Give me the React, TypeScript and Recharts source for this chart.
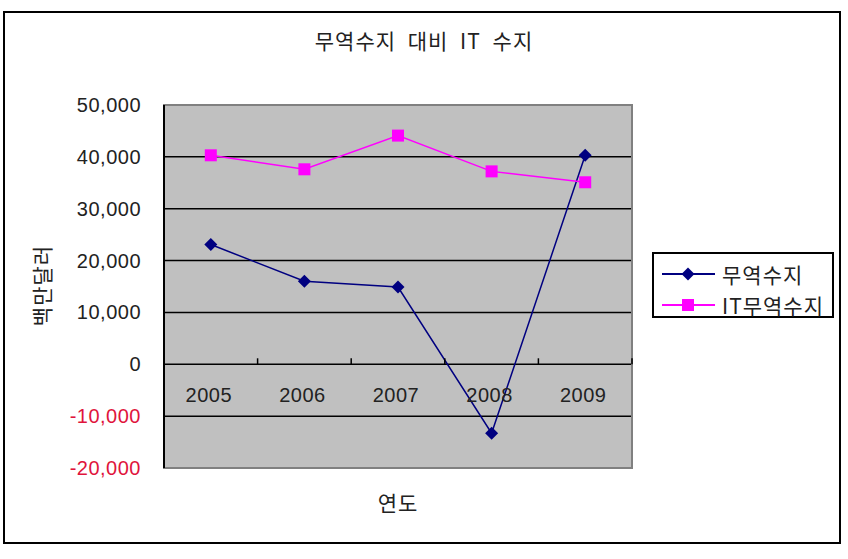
import React from 'react';
import { LineChart, Line, XAxis, YAxis, CartesianGrid, ReferenceArea, Legend } from 'recharts';

const years = ['2005', '2006', '2007', '2008', '2009'];
const tradeBalance = [23100, 16000, 14900, -13300, 40300];
const itTradeBalance = [40300, 37600, 44100, 37200, 35100];
const yTicks = [-20000, -10000, 0, 10000, 20000, 30000, 40000, 50000];
const Y_MIN = -20000;
const Y_MAX = 50000;
const seriesOrder = ['trade', 'it'];

const data = years.map((year, i) => ({
  year,
  trade: tradeBalance[i],
  it: itTradeBalance[i],
}));

// plot box geometry (px)
const PLOT_TOP = 105;
const PLOT_LEFT = 164;
const PLOT_W = 468;
const PLOT_H = 363;
const LEGEND_W = 182;
const NUM_FONT = '"Liberation Sans", Arial, sans-serif';
const KR_FONT = '"Noto Sans CJK KR", "Noto Sans", sans-serif';

const zeroY = PLOT_TOP + (PLOT_H * Y_MAX) / (Y_MAX - Y_MIN);
const band = PLOT_W / years.length;

function XTick({ x, payload }: any) {
  return (
    <g>
      <line x1={x + band / 2} x2={x + band / 2} y1={zeroY} y2={zeroY - 6} stroke="#000" strokeWidth={1.5} />
      <text
        x={x - 2}
        y={zeroY + 31}
        textAnchor="middle"
        dominantBaseline="central"
        fontFamily={NUM_FONT}
        fontSize={20}
        letterSpacing={0.5}
        fill="#222"
      >
        {payload.value}
      </text>
    </g>
  );
}

function YTick({ x, y, payload }: any) {
  const v = payload.value as number;
  return (
    <text
      x={x - 15}
      y={y}
      textAnchor="end"
      dominantBaseline="central"
      fontFamily={NUM_FONT}
      fontSize={20}
      letterSpacing={0.5}
      fill={v < 0 ? '#E0143C' : '#222'}
    >
      {v.toLocaleString('en-US')}
    </text>
  );
}

function YLabel({ viewBox }: any) {
  const cx = viewBox.x - 43;
  const cy = viewBox.y + viewBox.height / 2 - 1;
  return (
    <text
      x={cx}
      y={cy}
      transform={`rotate(-90, ${cx}, ${cy})`}
      textAnchor="middle"
      dominantBaseline="central"
      fontFamily={KR_FONT}
      fontSize={21}
      letterSpacing={1}
      fill="#222"
    >
      백만달러
    </text>
  );
}

function Diamond({ cx, cy, stroke, color }: any) {
  if (cx == null || cy == null) return null;
  const r = 6.5;
  return <polygon points={`${cx},${cy - r} ${cx + r},${cy} ${cx},${cy + r} ${cx - r},${cy}`} fill={color || stroke} />;
}

function Square({ cx, cy, stroke, color }: any) {
  if (cx == null || cy == null) return null;
  const s = 12;
  return <rect x={cx - s / 2} y={cy - s / 2} width={s} height={s} fill={color || stroke} />;
}

function LegendBox({ payload }: any) {
  const items = [...(payload || [])].sort(
    (a: any, b: any) => seriesOrder.indexOf(a.dataKey) - seriesOrder.indexOf(b.dataKey)
  );
  return (
    <div
      style={{
        border: '2px solid #000',
        width: LEGEND_W,
        height: 66,
        boxSizing: 'border-box',
        background: '#fff',
        padding: '4px 0 0 6px',
      }}
    >
      {items.map((p: any) => (
        <div key={p.value} style={{ display: 'flex', alignItems: 'center', height: 31 }}>
          <svg width={56} height={16}>
            <line x1={2} x2={55} y1={8} y2={8} stroke={p.color} strokeWidth={2} />
            {p.dataKey === 'trade' ? <Diamond cx={28} cy={8} color={p.color} /> : <Square cx={28} cy={8} color={p.color} />}
          </svg>
          <span style={{ fontFamily: KR_FONT, fontSize: 21, letterSpacing: 1, color: '#222', marginLeft: 6, lineHeight: '22px' }}>
            {p.value}
          </span>
        </div>
      ))}
    </div>
  );
}

export default function App() {
  return (
    <div style={{ position: 'absolute', left: 0, top: 0, width: 848, height: 559, background: '#fff' }}>
      <div
        style={{
          position: 'absolute',
          left: 3,
          top: 11,
          width: 838,
          height: 533,
          border: '2px solid #000',
          boxSizing: 'border-box',
        }}
      />
      <div
        style={{
          position: 'absolute',
          left: 0,
          width: 848,
          top: 25,
          textAlign: 'center',
          fontFamily: KR_FONT,
          fontSize: 21,
          letterSpacing: 1,
          wordSpacing: 6,
          color: '#222',
          boxSizing: 'border-box',
        }}
      >
        무역수지 대비 IT 수지
      </div>
      <div style={{ position: 'absolute', left: 0, top: 0 }}>
        <LineChart
          width={848}
          height={559}
          data={data}
          margin={{
            top: PLOT_TOP,
            right: 848 - PLOT_LEFT - PLOT_W - LEGEND_W,
            bottom: 559 - PLOT_TOP - PLOT_H - 30,
            left: PLOT_LEFT - 80,
          }}
        >
          <CartesianGrid vertical={false} stroke="#000" strokeWidth={1.5} fill="#C0C0C0" fillOpacity={1} />
          <ReferenceArea y1={Y_MIN} y2={Y_MAX} fill="none" stroke="#808080" strokeWidth={2} />
          <XAxis
            dataKey="year"
            scale="band"
            height={30}
            axisLine={false}
            tickLine={false}
            tick={<XTick />}
            label={{ value: '연도', position: 'bottom', offset: 0, dy: -2, fontFamily: KR_FONT, fontSize: 21, fill: '#222', letterSpacing: 1 }}
          />
          <YAxis
            width={80}
            domain={[Y_MIN, Y_MAX]}
            ticks={yTicks}
            interval={0}
            axisLine={{ stroke: '#000', strokeWidth: 2 }}
            tickLine={false}
            tick={<YTick />}
            label={<YLabel />}
          />
          <Legend
            layout="vertical"
            align="right"
            verticalAlign="middle"
            content={<LegendBox />}
            wrapperStyle={{ position: 'absolute', left: 652, top: 252, width: LEGEND_W, height: 66 }}
          />
          <Line
            dataKey="trade"
            name="무역수지"
            stroke="#000080"
            strokeWidth={1.5}
            dot={<Diamond />}
            activeDot={false}
            isAnimationActive={false}
          />
          <Line
            dataKey="it"
            name="IT무역수지"
            stroke="#FF00FF"
            strokeWidth={1.5}
            dot={<Square />}
            activeDot={false}
            isAnimationActive={false}
          />
        </LineChart>
      </div>
    </div>
  );
}
